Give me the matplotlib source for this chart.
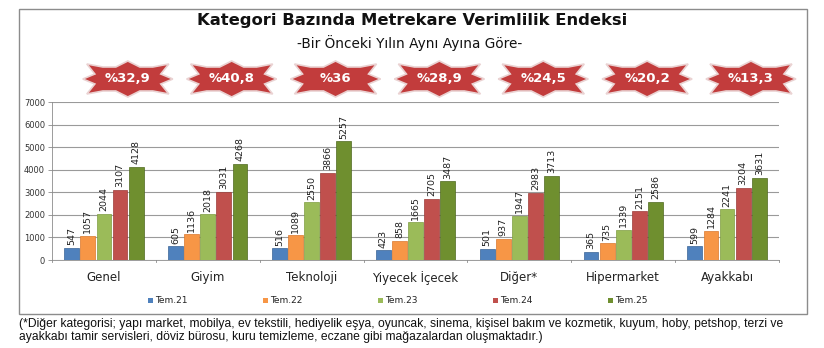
import numpy as np
import matplotlib
matplotlib.use("Agg")
import matplotlib.pyplot as plt
from matplotlib.patches import Polygon, Rectangle

plt.rcParams['font.family'] = ['DejaVu Sans']

categories = ['Genel', 'Giyim', 'Teknoloji', 'Yiyecek İçecek', 'Diğer*', 'Hipermarket', 'Ayakkabı']
series = ['Tem.21', 'Tem.22', 'Tem.23', 'Tem.24', 'Tem.25']
tem21 = [547, 605, 516, 423, 501, 365, 599]
tem22 = [1057, 1136, 1089, 858, 937, 735, 1284]
tem23 = [2044, 2018, 2550, 1665, 1947, 1339, 2241]
tem24 = [3107, 3031, 3866, 2705, 2983, 2151, 3204]
tem25 = [4128, 4268, 5257, 3487, 3713, 2586, 3631]
growth = ['%32,9', '%40,8', '%36', '%28,9', '%24,5', '%20,2', '%13,3']

colors = ['#4f81bd', '#f79646', '#9bbb59', '#c0504d', '#6f8f2f']
edges = ['#3a6496', '#d9782d', '#7f9d42', '#9c3b38', '#4f6a1f']

W, H = 824, 348
fig = plt.figure(figsize=(W / 100, H / 100), dpi=100)

# outer chart frame
fig.patches.append(Rectangle((19 / W, 1 - 314 / H), (807 - 19) / W, (314 - 9) / H,
                             transform=fig.transFigure, fill=False,
                             edgecolor='#8c8c8c', linewidth=1.0))

ax = fig.add_axes([52 / W, 1 - 260 / H, (779 - 52) / W, (260 - 102) / H])

x = np.arange(len(categories))
bw = 0.155
for j, vals in enumerate([tem21, tem22, tem23, tem24, tem25]):
    pos = x + (j - 2) * bw
    ax.bar(pos, vals, width=bw * 0.92, color=colors[j], edgecolor=edges[j],
           linewidth=0.5, label=series[j], zorder=3)
    for px, v in zip(pos, vals):
        ax.text(px, v + 120, str(v), rotation=90, ha='center', va='bottom',
                fontsize=6.8, color='#222222', zorder=4)

ax.set_xlim(-0.5, len(categories) - 0.5)
ax.set_ylim(0, 7000)
ax.set_yticks(range(0, 7001, 1000))
ax.tick_params(axis='y', labelsize=6, colors='#333333', length=3, width=0.6,
               color='#8c8c8c', pad=2)
ax.yaxis.grid(True, color='#9a9a9a', linewidth=0.8, zorder=0)
ax.set_xticks(x)
ax.set_xticklabels(categories, fontsize=8.5, color='#222222')
ax.tick_params(axis='x', length=0, pad=8)
for b in np.arange(len(categories) + 1) - 0.5:
    ax.plot([b, b], [0, -110], color='#8c8c8c', linewidth=0.6, clip_on=False)
for s in ['top', 'right']:
    ax.spines[s].set_visible(False)
ax.spines['left'].set_color('#8c8c8c')
ax.spines['bottom'].set_color('#8c8c8c')
ax.spines['left'].set_linewidth(0.6)
ax.spines['bottom'].set_linewidth(0.6)

# titles
fig.text(412 / W, 1 - 21 / H, 'Kategori Bazında Metrekare Verimlilik Endeksi',
         ha='center', va='center', fontsize=11.8, fontweight='bold', color='#111111')
fig.text(410 / W, 1 - 43 / H, '-Bir Önceki Yılın Aynı Ayına Göre-',
         ha='center', va='center', fontsize=9.8, color='#111111')

# growth badges
fig.canvas.draw()
shape = np.array([(45, 0), (33, 5), (41, 15), (25, 12), (12, 12), (0, 18),
                  (-12, 12), (-25, 12), (-41, 15), (-33, 5), (-45, 0),
                  (-33, -5), (-41, -15), (-25, -12), (-12, -12), (0, -18),
                  (12, -12), (25, -12), (41, -15), (33, -5)], dtype=float)
for i, g in enumerate(growth):
    cx = ax.transData.transform((i + 0.23, 0))[0]
    cy = H - 79
    verts = np.column_stack([(cx + shape[:, 0]) / W, (cy + shape[:, 1]) / H])
    fig.patches.append(Polygon(verts, closed=True, transform=fig.transFigure,
                               facecolor='#c23c3c', edgecolor='#ead2d2', linewidth=1.2))
    fig.text(cx / W, cy / H, g, ha='center', va='center', fontsize=9.5,
             fontweight='bold', color='white')

# legend row
leg_x = [150, 265, 380, 495, 610]
for j, name in enumerate(series):
    fig.patches.append(Rectangle(((leg_x[j] - 2) / W, 1 - 303 / H), 5 / W, 5 / H,
                                 transform=fig.transFigure, facecolor=colors[j],
                                 edgecolor='none'))
    fig.text((leg_x[j] + 5) / W, 1 - 300.5 / H, name, ha='left', va='center',
             fontsize=6.5, color='#222222')

# footnote
note = ('(*Diğer kategorisi; yapı market, mobilya, ev tekstili, hediyelik eşya, oyuncak, sinema, '
        'kişisel bakım ve kozmetik, kuyum, hoby, petshop, terzi ve\n'
        'ayakkabı tamir servisleri, döviz bürosu, kuru temizleme, eczane gibi mağazalardan oluşmaktadır.)')
fig.text(19 / W, 1 - 317.5 / H, note, ha='left', va='top', fontsize=8.7, color='#111111',
         family=['Liberation Sans Narrow', 'Liberation Sans', 'DejaVu Sans'],
         linespacing=1.2)

fig.savefig('out.png', dpi=100, facecolor='white')
